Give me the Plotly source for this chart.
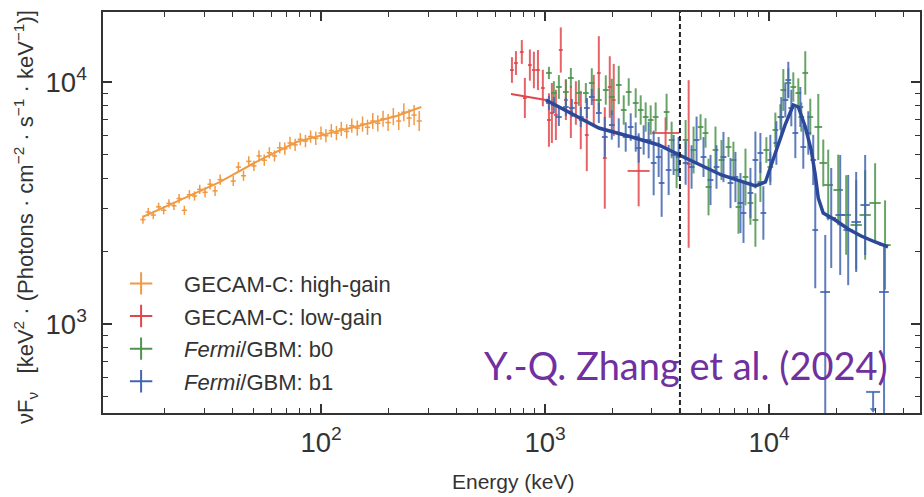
import plotly.graph_objects as go

# ---------------- data ----------------
# GECAM-C high-gain (orange)
hg_energy = [16.0, 16.9, 17.8, 18.8, 19.8, 20.9, 22.0, 23.2, 24.5, 25.8, 27.2, 28.7, 30.3, 31.9, 33.6, 35.4,
             40.5, 42.7, 45.0, 47.5, 50.1, 52.8, 55.7, 58.7, 61.9, 65.3, 68.8, 72.6, 76.5, 80.7, 85.1, 89.7,
             94.6, 99.8, 105, 111, 117, 123, 130, 137, 145, 153, 161, 170, 179, 189, 199, 210, 222, 234,
             247, 260, 274]
hg_flux = [2700, 2900, 2820, 3050, 2950, 3150, 3080, 3300, 2950, 3420, 3380, 3600, 3500, 3780, 3550, 3950,
           3900, 4450, 4100, 4700, 4500, 4950, 4750, 5100, 4950, 5350, 5300, 5600, 5500, 5800, 5700, 5950,
           5850, 6150, 6000, 6300, 6150, 6400, 6250, 6600, 6450, 6700, 6500, 6900, 6750, 7050, 6800, 7200,
           6900, 7500, 7100, 7300, 6900]
hg_err = [1.04, 1.04, 1.04, 1.04, 1.04, 1.04, 1.04, 1.045, 1.045, 1.045, 1.045, 1.045, 1.05, 1.05, 1.05, 1.05,
          1.05, 1.05, 1.05, 1.05, 1.05, 1.055, 1.055, 1.055, 1.055, 1.055, 1.06, 1.06, 1.06, 1.06, 1.06, 1.06,
          1.065, 1.065, 1.065, 1.065, 1.07, 1.07, 1.07, 1.07, 1.075, 1.075, 1.075, 1.08, 1.08, 1.08, 1.085,
          1.085, 1.09, 1.09, 1.09, 1.10, 1.10]
hg_bin = 1.027
hg_model_energy = [16, 23.4, 35.2, 53.1, 77.6, 109, 153, 217, 280]
hg_model_flux = [2770, 3250, 3860, 4760, 5650, 6150, 6640, 7240, 7880]

# GECAM-C low-gain (red)
lg_energy = [711, 741, 787, 812, 855, 891, 929, 977, 1040, 1072, 1117, 1175, 1238, 1303, 1372, 1443,
             1535, 1649, 1737, 1847, 1944, 2025, 2616, 3451, 4375]
lg_flux = [11210, 11980, 13310, 8590, 11750, 11210, 11210, 9445, 6966, 7445, 7310, 13560, 8427, 7516,
           8190, 6966, 6040, 8427, 10890, 4853, 9536, 8427, 4290, 6157, 4585]
lg_err = [1.13, 1.12, 1.12, 1.21, 1.16, 1.19, 1.21, 1.19, 1.29, 1.33, 1.27, 1.24, 1.21, 1.28, 1.23, 1.32,
          1.41, 1.27, 1.42, 1.62, 1.34, 1.41, 1.40, 1.16, 2.22]
lg_bin = [1.02, 1.02, 1.02, 1.02, 1.02, 1.02, 1.02, 1.02, 1.02, 1.02, 1.02, 1.02, 1.02, 1.02, 1.02, 1.02,
          1.02, 1.02, 1.02, 1.02, 1.02, 1.02, 1.12, 1.15, 1.02]
lg_model_energy = [704, 1008]
lg_model_flux = [8920, 8427]

# Fermi/GBM b0 (green)
b0_energy = [1040, 1094, 1152, 1238, 1303, 1415, 1520, 1616, 1737, 1866,
             1985, 2132, 2244, 2362, 2538, 2672, 2812, 2960, 3116, 3487,
             3672, 3865, 4240, 4601, 4943, 5203, 5366, 5765, 6131, 6590,
             6934, 7302, 7847, 8256, 8690, 9147, 9727, 10130, 10670, 11230,
             11580, 12190, 12830, 13510, 13930, 14510, 15280, 16590, 17460, 18370,
             20360, 22100, 24490, 26860, 29750, 32960]
b0_flux = [10900, 9006, 9536, 9093, 10390, 9006, 9006, 9906, 8427, 9267,
           8670, 9719, 7661, 9093, 8190, 7661, 7167, 6966, 7167, 7516,
           5759, 4330, 5759, 5236, 6516, 6157, 3683, 5236, 4762, 5389,
           4762, 3045, 4050, 3162, 2690, 3862, 5236, 4456, 6335, 7167,
           9267, 9906, 9536, 9006, 7167, 10900, 7167, 6516, 4628, 3753,
           3579, 2821, 2565, 2821, 3162, 2120]
b0_err = [1.06, 1.12, 1.12, 1.13, 1.10, 1.13, 1.10, 1.15, 1.12, 1.15,
          1.19, 1.20, 1.15, 1.14, 1.15, 1.15, 1.15, 1.15, 1.15, 1.19,
          1.19, 1.19, 1.21, 1.25, 1.13, 1.15, 1.31, 1.25, 1.21, 1.10,
          1.19, 1.29, 1.31, 1.23, 1.29, 1.21, 1.13, 1.15, 1.18, 1.13,
          1.22, 1.15, 1.15, 1.15, 1.15, 1.23, 1.19, 1.37, 1.25, 1.40,
          1.40, 1.46, 1.53, 1.53, 1.46, 1.53]
b0_bin = [1.03, 1.03, 1.03, 1.03, 1.03, 1.03, 1.03, 1.03, 1.03, 1.03,
          1.03, 1.03, 1.03, 1.03, 1.03, 1.03, 1.03, 1.03, 1.03, 1.03,
          1.03, 1.03, 1.03, 1.03, 1.03, 1.03, 1.03, 1.03, 1.03, 1.03,
          1.03, 1.03, 1.03, 1.03, 1.03, 1.03, 1.03, 1.03, 1.03, 1.03,
          1.03, 1.03, 1.03, 1.03, 1.03, 1.03, 1.03, 1.04, 1.04, 1.05,
          1.05, 1.05, 1.06, 1.06, 1.06, 1.06]

# Fermi/GBM b1 (blue)
b1_energy = [1040, 1094, 1152, 1238, 1317, 1444, 1536, 1616, 1737, 1847,
             1985, 2132, 2290, 2411, 2538, 2617, 2755, 2900, 3053, 3214,
             3314, 3561, 3748, 3945, 4240, 4508, 4746, 5097, 5477, 5824,
             6258, 6726, 7078, 7453, 7688, 8256, 8690, 9147, 9432, 10130,
             10780, 11340, 11820, 12190, 12570, 13100, 13790, 14220, 14970, 15750,
             16080, 18950, 20780, 22560, 24490, 26860]
b1_flux = [8190, 8035, 7167, 7884, 7809, 7167, 7809, 8670, 7445, 5926,
           6643, 6157, 5926, 6516, 5926, 5338, 5759, 5759, 4628, 4899,
           3825, 4330, 4993, 4899, 4628, 4456, 5759, 4899, 3936, 4456,
           4899, 3825, 4050, 3162, 2876, 3478, 4762, 5089, 2876, 4762,
           5597, 7167, 8427, 10190, 7809, 6157, 7884, 5389, 6157, 4762,
           2445, 2742, 2821, 2445, 2640, 3102]
b1_err = [1.07, 1.08, 1.09, 1.09, 1.09, 1.10, 1.10, 1.08, 1.10, 1.21,
          1.15, 1.15, 1.15, 1.14, 1.15, 1.15, 1.15, 1.19, 1.36, 1.21,
          1.38, 1.27, 1.21, 1.21, 1.23, 1.23, 1.25, 1.21, 1.27, 1.23,
          1.27, 1.27, 1.27, 1.33, 1.33, 1.27, 1.31, 1.21, 1.29, 1.27,
          1.23, 1.21, 1.18, 1.19, 1.19, 1.27, 1.21, 1.23, 1.23, 1.27,
          1.74, 1.61, 1.77, 1.69, 1.61, 1.61]
b1_bin = [1.03, 1.03, 1.03, 1.03, 1.03, 1.03, 1.03, 1.03, 1.03, 1.03,
          1.03, 1.03, 1.03, 1.03, 1.03, 1.03, 1.03, 1.03, 1.03, 1.03,
          1.03, 1.03, 1.03, 1.03, 1.03, 1.03, 1.03, 1.03, 1.03, 1.03,
          1.03, 1.03, 1.03, 1.03, 1.03, 1.03, 1.03, 1.03, 1.03, 1.03,
          1.03, 1.03, 1.03, 1.03, 1.03, 1.03, 1.03, 1.03, 1.03, 1.03,
          1.03, 1.05, 1.05, 1.05, 1.05, 1.05]
# b1 bins whose lower error reaches zero flux
b1_low_energy = [17820, 32620]
b1_low_flux = [1356, 1356]
b1_low_up = [1.72, 1.56]
# b1 upper limit
b1_ul_energy = [29150]
b1_ul_flux = [524]
b1_ul_arrow = [442]

b1_model_energy = [1008, 1343, 1737, 2437, 3216, 4240, 6131, 8690, 9634, 10670, 11830, 12830, 13510,
                   14520, 15430, 16080, 16580, 17450, 19740, 22550, 25770, 29760, 33990]
b1_model_flux = [8427, 7307, 6453, 5926, 5491, 4853, 4128, 3718, 3862, 5089, 6706, 8035, 7884,
                 6516, 5236, 4128, 3317, 2876, 2690, 2470, 2310, 2182, 2081]

vline_energy = 4000

legend_names = ["GECAM-C: high-gain", "GECAM-C: low-gain", "<i>Fermi</i>/GBM: b0", "<i>Fermi</i>/GBM: b1"]
credit_text = "Y.-Q. Zhang et al. (2024)"

# ---------------- styles ----------------
C_OR = "#f19a45"
C_RD = "rgba(226,72,76,0.85)"
C_GR = "rgba(78,148,78,0.85)"
C_BL = "rgba(66,102,176,0.85)"
C_BLM = "#2b4899"
FONT = "Liberation Sans, Arial, sans-serif"


def yerrs(vals, facs):
    return [v * (f - 1) for v, f in zip(vals, facs)], [v * (1 - 1 / f) for v, f in zip(vals, facs)]


def xerrs(es, facs):
    return [e * (k - 1) for e, k in zip(es, facs)], [e * (1 - 1 / k) for e, k in zip(es, facs)]


def data_trace(es, vs, efac, bfac, color, thick):
    yp, ym = yerrs(vs, efac)
    xp, xm = xerrs(es, bfac)
    return go.Scatter(
        x=es, y=vs, mode="markers", showlegend=False, hoverinfo="skip",
        marker=dict(size=2, color=color),
        error_y=dict(type="data", symmetric=False, array=yp, arrayminus=ym, width=0,
                     thickness=thick, color=color),
        error_x=dict(type="data", symmetric=False, array=xp, arrayminus=xm, width=0,
                     thickness=thick, color=color),
    )


fig = go.Figure()

fig.add_trace(data_trace(hg_energy, hg_flux, hg_err, [hg_bin] * len(hg_energy), C_OR, 1.5))
fig.add_trace(go.Scatter(x=hg_model_energy, y=hg_model_flux, mode="lines", showlegend=False,
                         line=dict(color=C_OR, width=2), hoverinfo="skip"))
fig.add_trace(data_trace(lg_energy, lg_flux, lg_err, lg_bin, C_RD, 2))
fig.add_trace(data_trace(b0_energy, b0_flux, b0_err, b0_bin, C_GR, 2))
fig.add_trace(data_trace(b1_energy, b1_flux, b1_err, b1_bin, C_BL, 2))

# bins reaching zero flux
lp = [v * (f - 1) for v, f in zip(b1_low_flux, b1_low_up)]
fig.add_trace(go.Scatter(
    x=b1_low_energy, y=b1_low_flux, mode="markers", showlegend=False, hoverinfo="skip",
    marker=dict(size=2, color=C_BL),
    error_y=dict(type="data", symmetric=False, array=lp, arrayminus=b1_low_flux, width=0,
                 thickness=2, color=C_BL),
    error_x=dict(type="percent", value=5, width=0, thickness=2, color=C_BL)))
# upper limit
fig.add_trace(go.Scatter(
    x=b1_ul_energy, y=b1_ul_flux, mode="markers", showlegend=False, hoverinfo="skip",
    marker=dict(symbol="line-ew-open", size=10, color=C_BL, line=dict(width=2, color=C_BL)),
    error_y=dict(type="data", symmetric=False, array=[0],
                 arrayminus=[f - a for f, a in zip(b1_ul_flux, b1_ul_arrow)],
                 width=0, thickness=2, color=C_BL)))
fig.add_trace(go.Scatter(
    x=b1_ul_energy, y=b1_ul_arrow, mode="markers", showlegend=False, hoverinfo="skip",
    marker=dict(symbol="triangle-down", size=6, color=C_BL)))

fig.add_trace(go.Scatter(x=lg_model_energy, y=lg_model_flux, mode="lines", showlegend=False,
                         line=dict(color="#e0474c", width=2), hoverinfo="skip"))
fig.add_trace(go.Scatter(x=b1_model_energy, y=b1_model_flux, mode="lines", showlegend=False,
                         line=dict(color=C_BLM, width=3.5), hoverinfo="skip"))

# legend entries
for i, (name, col) in enumerate(zip(legend_names, ["#f19a45", "#e0474c", "#4e944e", "#4266b0"])):
    fig.add_trace(go.Scatter(x=[None], y=[None], mode="markers", name=name, legendgroup=f"g{i}",
                             marker=dict(symbol="cross-thin-open", size=16, color=col,
                                         line=dict(width=2, color=col))))

fig.add_shape(type="line", xref="x", yref="paper", x0=vline_energy, x1=vline_energy, y0=0, y1=1,
              line=dict(color="#222", width=2, dash="5px,3px"))

axis_common = dict(
    type="log", showline=True, linecolor="#333", linewidth=1.5, mirror="ticks",
    ticks="inside", ticklen=9, tickwidth=1.5, tickcolor="#333",
    showgrid=False, zeroline=False, dtick=1, exponentformat="power",
    tickfont=dict(family=FONT, size=22, color="#333"),
    minor=dict(ticks="inside", ticklen=5, tickwidth=1.2, tickcolor="#333", dtick="D1", showgrid=False),
)

fig.update_layout(
    width=924, height=497,
    margin=dict(l=103, r=2, t=12, b=84),
    paper_bgcolor="white", plot_bgcolor="white",
    xaxis=dict(range=[1.0258, 4.674], ticklabelstandoff=5, **axis_common),
    yaxis=dict(range=[2.6322, 4.2893], ticklabelstandoff=10, **axis_common),
    legend=dict(x=-0.006, y=0.375, xanchor="left", yanchor="top", bgcolor="rgba(0,0,0,0)",
                traceorder="grouped", tracegroupgap=1, itemwidth=76,
                font=dict(family=FONT, size=22, color="#333")),
    annotations=[
        dict(text="Energy (keV)", xref="paper", yref="paper", x=0.503, y=-0.205,
             showarrow=False, font=dict(family=FONT, size=21, color="#333"),
             xanchor="center", yanchor="bottom"),
        dict(text="νF<sub>ν</sub>\u00a0\u00a0\u00a0[keV<sup>2</sup> · (Photons · cm<sup>−2</sup> · s<sup>−1</sup> · keV<sup>−1</sup>)]",
             xref="paper", yref="paper", x=-0.095, y=0.49, textangle=-90,
             showarrow=False, font=dict(family=FONT, size=22, color="#333"),
             xanchor="center", yanchor="middle"),
        dict(text=credit_text, xref="paper", yref="paper", x=0.713, y=0.12,
             showarrow=False, font=dict(family="Lato", size=38, color="#7030A0"),
             xanchor="center", yanchor="middle"),
    ],
)

fig.write_html("out.html")
